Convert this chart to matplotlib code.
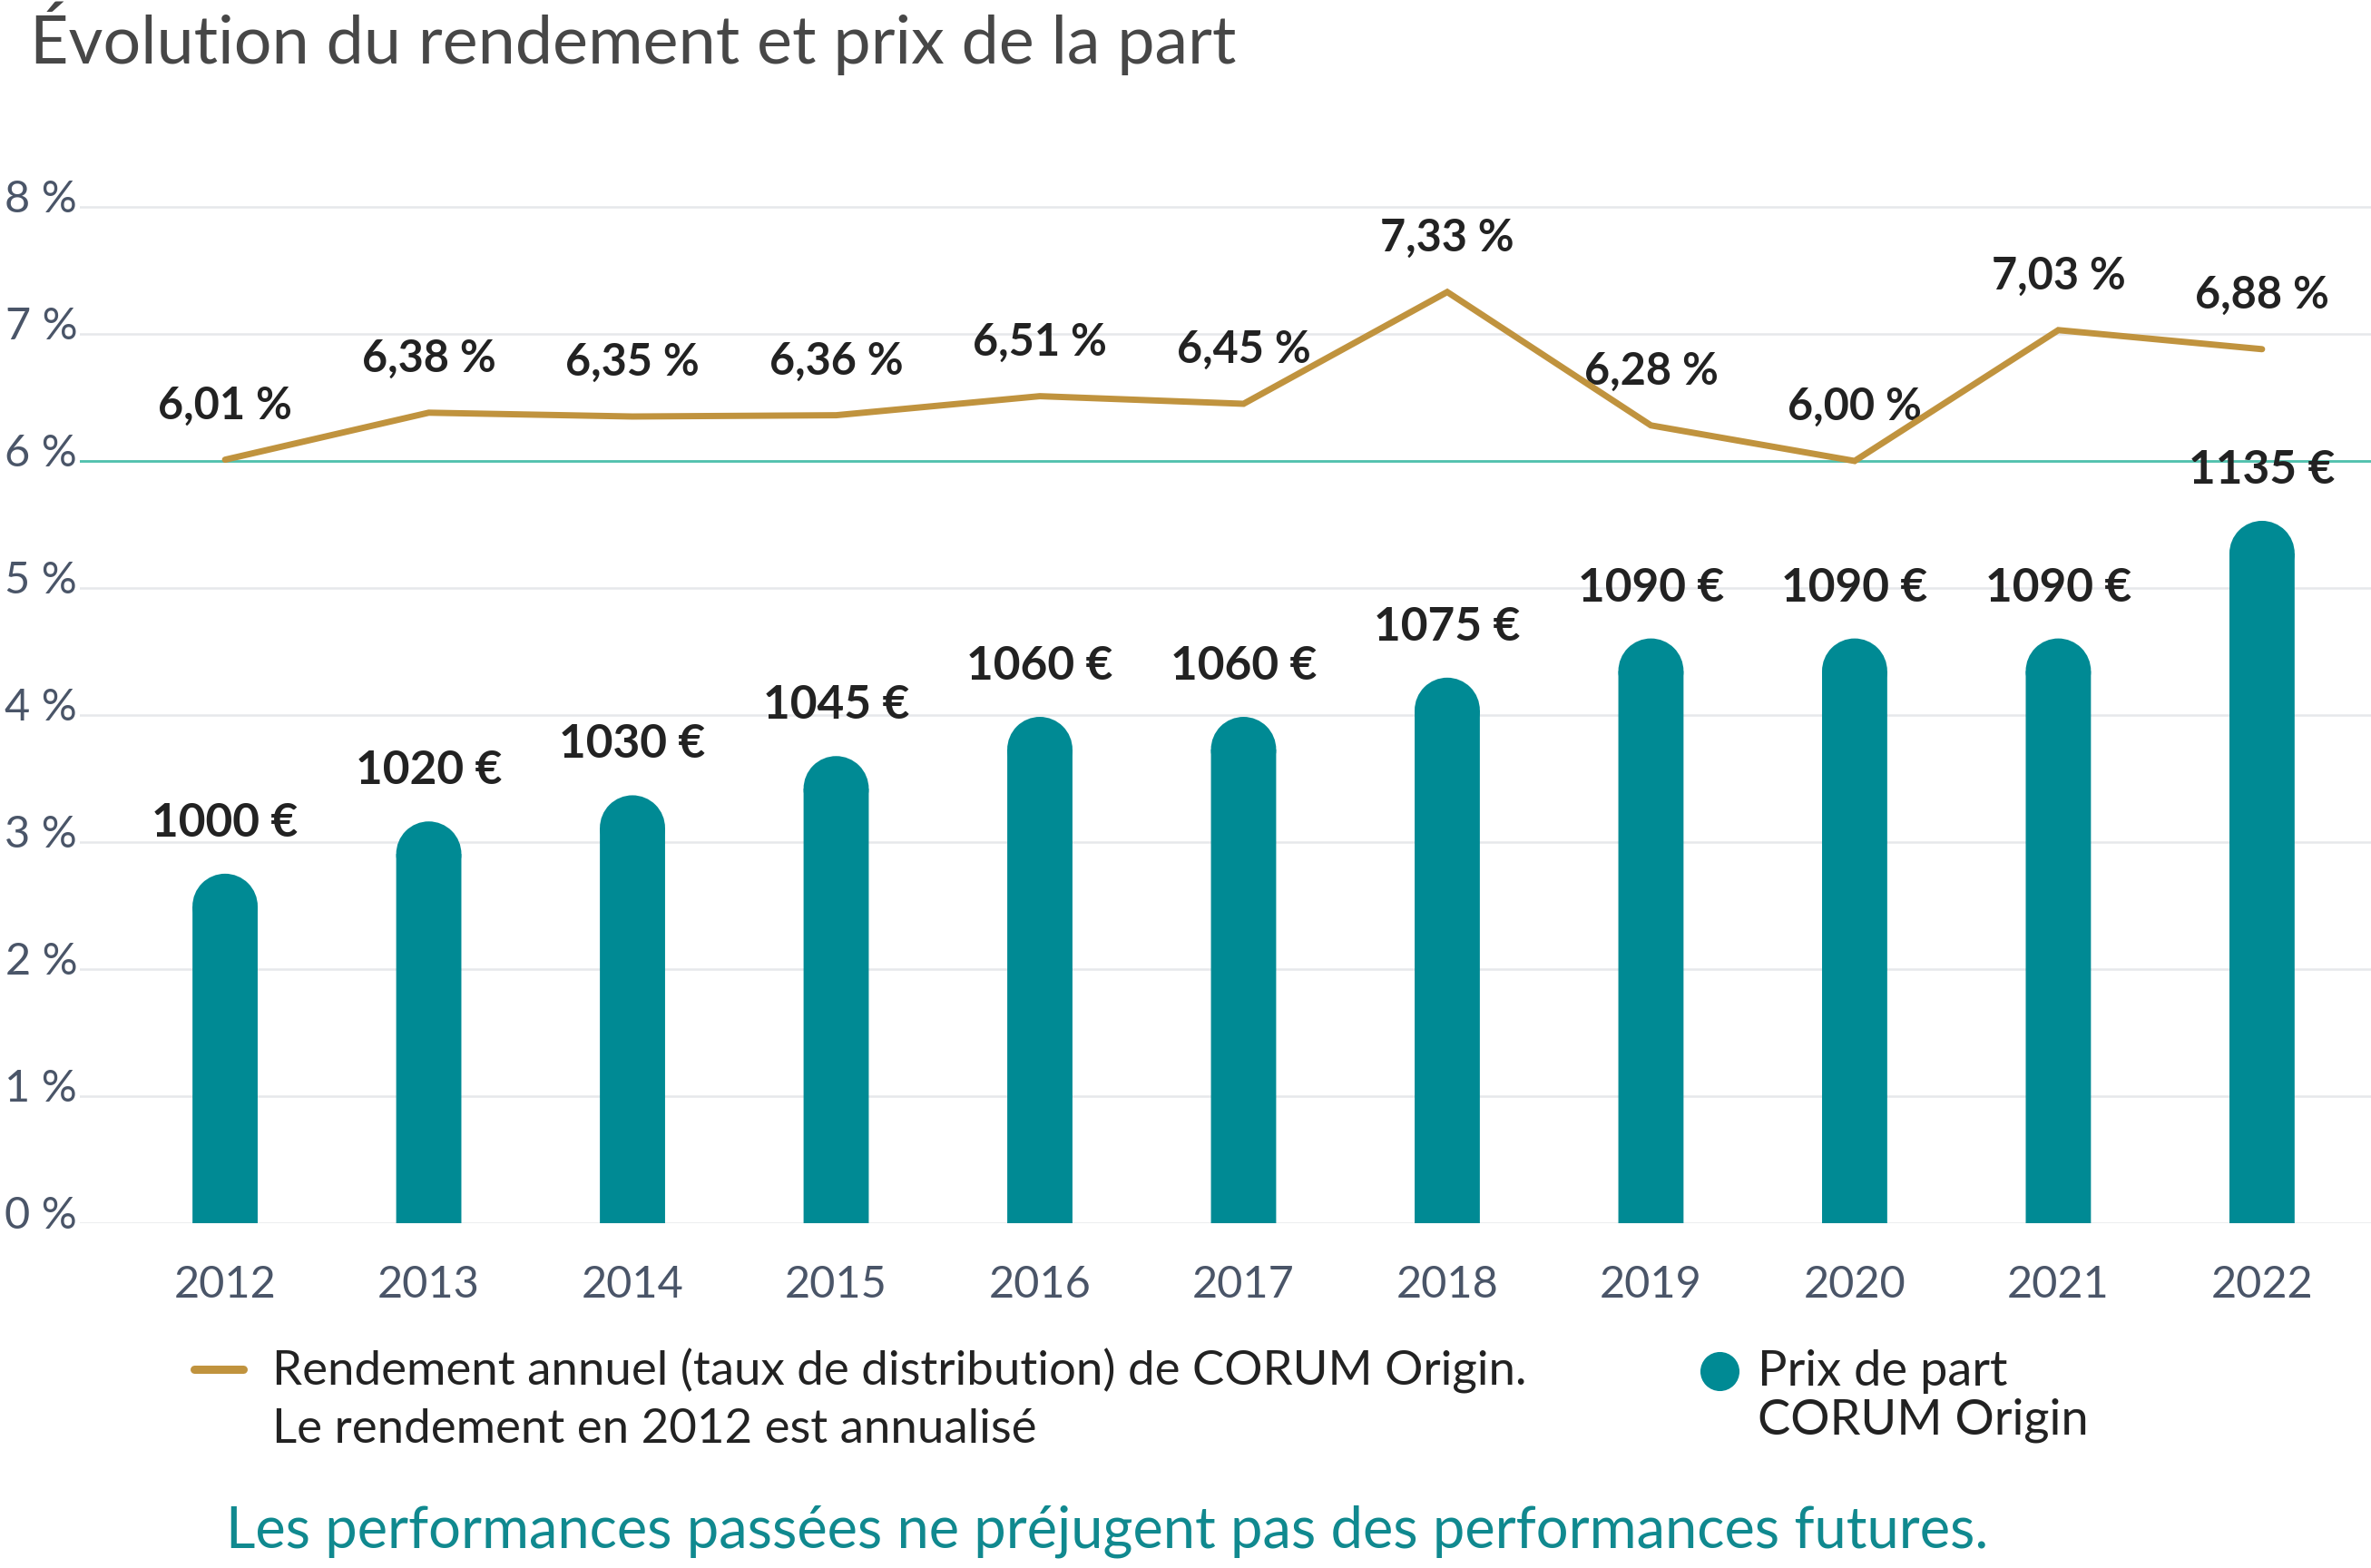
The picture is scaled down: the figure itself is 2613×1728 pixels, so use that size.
import matplotlib
matplotlib.use("Agg")
import matplotlib.pyplot as plt
from matplotlib.lines import Line2D
from matplotlib.patches import Ellipse
from matplotlib.transforms import ScaledTranslation

# ── data ──────────────────────────────────────────────────────────────────────
years = ["2012", "2013", "2014", "2015", "2016", "2017",
         "2018", "2019", "2020", "2021", "2022"]
rendement = [6.01, 6.38, 6.35, 6.36, 6.51, 6.45, 7.33, 6.28, 6.00, 7.03, 6.88]
prix = [1000, 1020, 1030, 1045, 1060, 1060, 1075, 1090, 1090, 1090, 1135]
pct_ticks = [0, 1, 2, 3, 4, 5, 6, 7, 8]

title = "Évolution du rendement et prix de la part"
leg_line = ["Rendement annuel (taux de distribution) de CORUM Origin.",
            "Le rendement en 2012 est annualisé"]
leg_bar = ["Prix de part", "CORUM Origin"]
footer = "Les performances passées ne préjugent pas des performances futures."

# ── style ─────────────────────────────────────────────────────────────────────
plt.rcParams["font.family"] = ["Lato", "DejaVu Sans"]
GOLD = "#c0933e"
TEAL = "#008a94"
MINT = "#4fc1ad"
GRID = "#e6e8eb"
TICK = "#4a5568"
DARK = "#222222"

W, H, DPI = 2613, 1728, 100
fig = plt.figure(figsize=(W / DPI, H / DPI), dpi=DPI)


def fx(px):
    return px / W


def fy(py):
    return 1 - py / H


# price scale is drawn on a hidden twin axis (0 % ~ 866 €, 1 % ~ 48.6 €)
Y_TOP = 8.5
PRICE_AT_ZERO = 866.3
EUR_PER_PCT = 48.6
BAR_W = 0.32

ax = fig.add_axes([fx(88), fy(1348), 1 - fx(88), fy(1348 - Y_TOP * 140) - fy(1348)])
ax.set_xlim(-0.713, 10.535)
ax.set_ylim(0, Y_TOP)
ax2 = ax.twinx()
ax2.set_ylim(PRICE_AT_ZERO, PRICE_AT_ZERO + Y_TOP * EUR_PER_PCT)

for a in (ax, ax2):
    for s in a.spines.values():
        s.set_visible(False)
ax2.set_yticks([])
ax.set_zorder(0)
ax2.set_zorder(1)
ax2.patch.set_visible(False)

x = list(range(len(years)))

# grid + 6 % reference line
ax.set_yticks(pct_ticks, [f"{t} %" for t in pct_ticks])
ax.yaxis.grid(True, color=GRID, linewidth=1.8)
ax.set_axisbelow(True)
ax.axhline(6, color=MINT, linewidth=2.0, zorder=2)
ax.tick_params(axis="y", length=0, pad=2, labelsize=35, labelcolor=TICK)
ax.tick_params(axis="x", length=0, pad=33, labelsize=35, labelcolor=TICK)
ax.set_xticks(x, years)
for lab in ax.get_yticklabels():
    lab.set_transform(lab.get_transform() + ScaledTranslation(0, 9 / 72, fig.dpi_scale_trans))

# rounded bars: bar body + half-ellipse cap (circular on screen)
fig.canvas.draw()
bar_px = BAR_W * ax.bbox.width / (ax.get_xlim()[1] - ax.get_xlim()[0])
eur_per_px = (ax2.get_ylim()[1] - ax2.get_ylim()[0]) / ax.bbox.height
r_eur = bar_px / 2 * eur_per_px
bars = ax2.bar(x, [p - r_eur - PRICE_AT_ZERO for p in prix], bottom=PRICE_AT_ZERO,
               width=BAR_W, color=TEAL, linewidth=0)
for b in bars:
    b.set_snap(False)
for xi, p in zip(x, prix):
    cap = Ellipse((xi, p - r_eur), BAR_W, 2 * r_eur, color=TEAL, linewidth=0)
    cap.set_snap(False)
    ax2.add_patch(cap)
    ax2.annotate(f"{p} €", (xi, p), xytext=(0, 40), textcoords="offset points",
                 ha="center", va="center", fontsize=37, fontweight="bold", color=DARK)

# rendement line
ax.plot(x, rendement, color=GOLD, linewidth=5, solid_capstyle="round",
        solid_joinstyle="miter", zorder=4)
for xi, v in zip(x, rendement):
    ax.annotate(f"{v:.2f} %".replace(".", ","), (xi, v), xytext=(0, 43),
                textcoords="offset points", ha="center", va="center",
                fontsize=35, fontweight="bold", color=DARK)

# title
fig.text(fx(33), fy(42), title, ha="left", va="center", fontsize=53, color="#474747")

# legend (drawn by hand to keep the two-line labels)
fig.add_artist(Line2D([fx(214), fx(268)], [fy(1509), fy(1509)], color=GOLD,
                      linewidth=6.5, solid_capstyle="round"))
for line, py in zip(leg_line, [1511, 1575]):
    fig.text(fx(300), fy(py), line, ha="left", va="center", fontsize=38, color=DARK)
fig.add_artist(Line2D([fx(1895)], [fy(1511)], marker="o", markersize=30,
                      color=TEAL, linewidth=0))
for line, py in zip(leg_bar, [1511, 1565]):
    fig.text(fx(1937), fy(py), line, ha="left", va="center", fontsize=39, color=DARK)

# footer
fig.text(fx(1220), fy(1688), footer, ha="center", va="center", fontsize=45.5, color="#10898f")

fig.savefig("out.png", dpi=DPI)
